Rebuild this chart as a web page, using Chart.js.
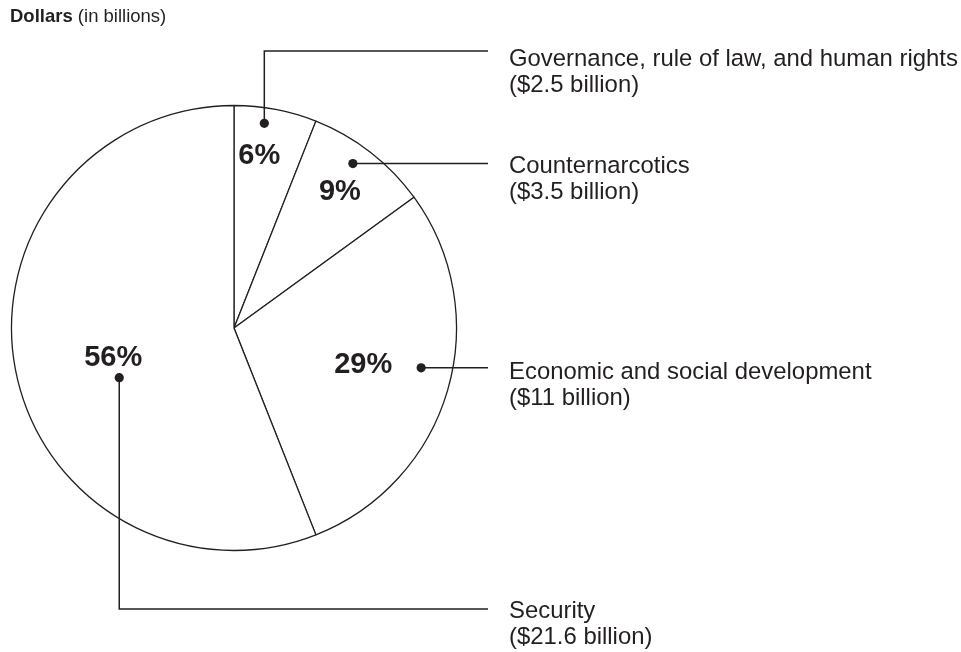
<!DOCTYPE html>
<html>
<head>
<meta charset="utf-8">
<script src="https://cdn.jsdelivr.net/npm/chart.js@4.4.1/dist/chart.umd.min.js"></script>
<style>
  html, body { margin: 0; padding: 0; background: #fff; }
  #wrap { position: relative; width: 961px; height: 652px; }
</style>
</head>
<body>
<div id="wrap"><canvas id="grafico" width="961" height="652"></canvas></div>
<script>
// data
const categories = ['Governance, rule of law, and human rights', 'Counternarcotics', 'Economic and social development', 'Security'];
const dollars = [2.5, 3.5, 11, 21.6];      // billions
const percents = [6, 9, 29, 56];           // printed shares, slices drawn from these
const amountLabels = ['($2.5 billion)', '($3.5 billion)', '($11 billion)', '($21.6 billion)'];

const ink = '#231f20';
const font = '"Liberation Sans", Arial, Helvetica, sans-serif';

// where each dot sits inside its slice: t = fraction of the slice angle, r = fraction of radius
const dotSpots = [
  { t: 0.39, r: 0.93 },
  { t: 0.44, r: 0.912 },
  { t: 0.46, r: 0.86 },
  { t: 0.4375, r: 0.562 }
];
// percent label offset from the dot (centre x, baseline y)
const pctOffsets = [[-5, 41], [-13, 36], [-58, 5], [-6, -12]];
// leader line: elbow y (null = straight across), text baseline of first line
const leaders = [
  { elbowY: 51, textY: 66 },
  { elbowY: null, textY: 173 },
  { elbowY: null, textY: 379 },
  { elbowY: 609, textY: 618 }
];
const lineEndX = 488;
const textX = 509;

const labelPlugin = {
  id: 'labelPlugin',
  afterDraw(chart) {
    const c = chart.ctx;
    const arcs = chart.getDatasetMeta(0).data;

    c.save();
    c.fillStyle = ink;
    c.textBaseline = 'alphabetic';

    // title
    c.textAlign = 'left';
    c.font = 'bold 18.5px ' + font;
    c.fillText('Dollars', 10, 22);
    const w = c.measureText('Dollars ').width;
    c.font = '18.5px ' + font;
    c.fillText('(in billions)', 10 + w, 22);

    arcs.forEach((arc, i) => {
      const p = arc.getProps(['x', 'y', 'startAngle', 'endAngle', 'outerRadius'], true);
      const a = p.startAngle + dotSpots[i].t * (p.endAngle - p.startAngle);
      const dx = p.x + Math.cos(a) * p.outerRadius * dotSpots[i].r;
      const dy = p.y + Math.sin(a) * p.outerRadius * dotSpots[i].r;

      // leader line
      c.strokeStyle = ink;
      c.lineWidth = 1.5;
      c.beginPath();
      c.moveTo(dx, dy);
      const ly = leaders[i].elbowY === null ? dy : leaders[i].elbowY;
      c.lineTo(dx, ly);
      c.lineTo(lineEndX, ly);
      c.stroke();

      // dot
      c.beginPath();
      c.arc(dx, dy, 4.6, 0, Math.PI * 2);
      c.fill();

      // percent
      c.textAlign = 'center';
      c.font = 'bold 29px ' + font;
      c.fillText(percents[i] + '%', dx + pctOffsets[i][0], dy + pctOffsets[i][1]);

      // category text
      c.textAlign = 'left';
      c.font = '23.9px ' + font;
      c.fillText(categories[i], textX, leaders[i].textY);
      c.fillText(amountLabels[i], textX, leaders[i].textY + 26);
    });
    c.restore();
  }
};

const ctx = document.getElementById('grafico').getContext('2d');

new Chart(ctx, {
  type: 'pie',
  data: {
    labels: categories,
    datasets: [{
      data: percents,
      backgroundColor: '#ffffff',
      borderColor: ink,
      borderWidth: 1.3,
      radius: 222.5
    }]
  },
  options: {
    responsive: false,
    animation: false,
    layout: {
      padding: { left: 0, right: 493, top: 104, bottom: 100 }
    },
    plugins: {
      legend: { display: false },
      tooltip: { enabled: false }
    }
  },
  plugins: [labelPlugin]
});
</script>
</body>
</html>
